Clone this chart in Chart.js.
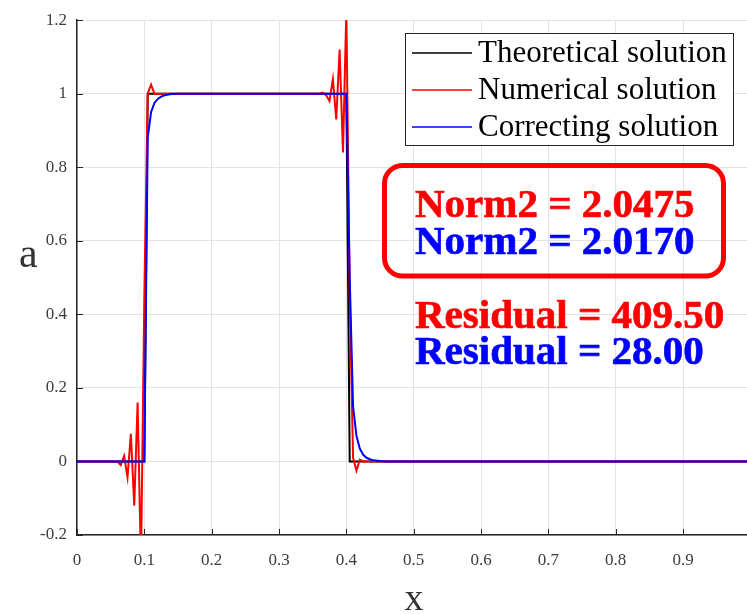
<!DOCTYPE html>
<html>
<head>
<meta charset="utf-8">
<title>Square pulse advection</title>
<script src="https://cdn.jsdelivr.net/npm/chart.js@4.4.1/dist/chart.umd.min.js"></script>
<style>
    html, body { margin: 0; padding: 0; background: #ffffff; }
    #wrap { width: 747px; height: 614px; }
</style>
</head>
<body>
<div id="wrap"><canvas id="solutionChart" width="747" height="614"></canvas></div>
<script>
// exact square pulse
const theoryX = [0, 0.1, 0.105, 0.4, 0.405, 0.995];
const theoryY = [0, 0, 1, 1, 0, 0];

// scheme output, wiggles just ahead of both jumps
const numericalX = [0, 0.06, 0.065, 0.07, 0.075, 0.08, 0.085, 0.09, 0.095, 0.1, 0.105, 0.11, 0.115,
    0.36, 0.365, 0.37, 0.375, 0.38, 0.385, 0.39, 0.395, 0.4, 0.405, 0.41, 0.415, 0.42, 0.425, 0.995];
const numericalY = [0, 0, -0.01, 0.015, -0.043, 0.075, -0.12, 0.16, -0.28, 0.45, 1.0, 1.025, 1.0,
    1.0, 1.003, 0.996, 0.98, 1.04, 0.93, 1.12, 0.84, 1.23, 0.45, 0.01, -0.025, 0.005, 0, 0];

// corrected result, smooth edges
const correctingX = [0, 0.1, 0.105, 0.11, 0.115, 0.12, 0.125, 0.13, 0.14, 0.15,
    0.4, 0.405, 0.41, 0.415, 0.42, 0.425, 0.43, 0.435, 0.44, 0.45, 0.46, 0.995];
const correctingY = [0, 0, 0.88, 0.95, 0.975, 0.986, 0.992, 0.996, 0.999, 1,
    1, 0.5, 0.15, 0.07, 0.035, 0.018, 0.01, 0.006, 0.003, 0.001, 0, 0];

const xTickValues = [0, 0.1, 0.2, 0.3, 0.4, 0.5, 0.6, 0.7, 0.8, 0.9];
const xTickLabels = ['0', '0.1', '0.2', '0.3', '0.4', '0.5', '0.6', '0.7', '0.8', '0.9'];
const yTickValues = [-0.2, 0, 0.2, 0.4, 0.6, 0.8, 1, 1.2];
const yTickLabels = ['-0.2', '0', '0.2', '0.4', '0.6', '0.8', '1', '1.2'];

const normLabels = ['Norm2 = 2.0475', 'Norm2 = 2.0170'];
const residualLabels = ['Residual = 409.50', 'Residual = 28.00'];
const noteColors = ['#ff0000', '#0000ff'];

const serif = '"Liberation Serif", "Times New Roman", serif';
const axisColor = '#262626';

function toPoints(xs, ys) {
    return xs.map((x, i) => ({ x: x, y: ys[i] }));
}

// bold text with a hairline stroke to thicken it a little
function boldText(c, text, x, y, color) {
    c.fillStyle = color;
    c.strokeStyle = color;
    c.lineWidth = 0.7;
    c.lineJoin = 'round';
    c.strokeText(text, x, y);
    c.fillText(text, x, y);
}

// ticks point into the plot, matlab style
const innerTicks = {
    id: 'innerTicks',
    beforeDatasetsDraw(chart) {
        const c = chart.ctx;
        const area = chart.chartArea;
        const xs = chart.scales.x;
        const ys = chart.scales.y;
        c.save();
        c.strokeStyle = axisColor;
        c.lineWidth = 1;
        c.beginPath();
        xTickValues.forEach(v => {
            const px = Math.round(xs.getPixelForValue(v)) + 0.5;
            c.moveTo(px, area.bottom);
            c.lineTo(px, area.bottom - 6);
        });
        yTickValues.forEach(v => {
            const py = Math.round(ys.getPixelForValue(v)) + 0.5;
            c.moveTo(area.left, py);
            c.lineTo(area.left + 6, py);
        });
        c.stroke();
        c.restore();
    }
};

// legend box, error notes and the unrotated axis names
const overlay = {
    id: 'overlay',
    afterDraw(chart) {
        const c = chart.ctx;
        c.save();

        // legend
        c.fillStyle = '#ffffff';
        c.fillRect(405.5, 33.5, 328, 112);
        c.strokeStyle = axisColor;
        c.lineWidth = 1;
        c.strokeRect(405.5, 33.5, 328, 112);
        c.font = '31px ' + serif;
        c.textBaseline = 'middle';
        c.textAlign = 'left';
        chart.data.datasets.forEach((ds, i) => {
            const y = 53 + i * 37;
            c.strokeStyle = ds.borderColor;
            c.lineWidth = 1.5;
            c.beginPath();
            c.moveTo(412, y);
            c.lineTo(472, y);
            c.stroke();
            c.fillStyle = '#000000';
            c.fillText(ds.label, 478, y + 1);
        });

        // rounded frame round the norms
        c.strokeStyle = '#ff0000';
        c.lineWidth = 5;
        c.beginPath();
        c.roundRect(384.5, 165.5, 339, 110.5, 18);
        c.stroke();

        c.font = 'bold 41px ' + serif;
        c.textBaseline = 'alphabetic';
        normLabels.forEach((t, i) => boldText(c, t, 415, 217 + i * 36.5, noteColors[i]));
        residualLabels.forEach((t, i) => boldText(c, t, 415, 328 + i * 35.5, noteColors[i]));

        // axis names
        c.fillStyle = '#333333';
        c.font = '42px ' + serif;
        c.textAlign = 'left';
        c.fillText('a', 19, 267);
        c.font = '38px ' + serif;
        c.textAlign = 'center';
        c.fillText('x', 414, 610);

        c.restore();
    }
};

document.addEventListener('DOMContentLoaded', function () {
    const ctx = document.getElementById('solutionChart').getContext('2d');
    const solutionChart = new Chart(ctx, {
        type: 'line',
        data: {
            datasets: [{
                label: 'Theoretical solution',
                data: toPoints(theoryX, theoryY),
                borderColor: '#000000',
                order: 3
            }, {
                label: 'Numerical solution',
                data: toPoints(numericalX, numericalY),
                borderColor: '#ff0000',
                order: 2
            }, {
                label: 'Correcting solution',
                data: toPoints(correctingX, correctingY),
                borderColor: '#0000ff',
                order: 1
            }]
        },
        options: {
            responsive: false,
            animation: false,
            devicePixelRatio: 1,
            layout: { padding: { top: 15, right: 0, left: 0, bottom: 0 } },
            elements: {
                point: { radius: 0 },
                line: { borderWidth: 2, tension: 0, fill: false }
            },
            plugins: {
                legend: { display: false },
                tooltip: { enabled: false }
            },
            scales: {
                x: {
                    type: 'linear',
                    min: 0,
                    max: 0.995,
                    afterBuildTicks: scale => { scale.ticks = xTickValues.map(v => ({ value: v })); },
                    afterFit: scale => { scale.height = 79; },
                    ticks: {
                        autoSkip: false,
                        maxRotation: 0,
                        padding: 15,
                        color: '#3c3c3c',
                        font: { family: serif, size: 17 },
                        callback: (v, i) => xTickLabels[i]
                    },
                    grid: { color: '#e3e3e3', drawTicks: false },
                    border: { color: axisColor, width: 1.5 }
                },
                y: {
                    min: -0.2,
                    max: 1.2,
                    afterBuildTicks: scale => { scale.ticks = yTickValues.map(v => ({ value: v })); },
                    afterFit: scale => { scale.width = 77; },
                    ticks: {
                        autoSkip: false,
                        padding: 10,
                        color: '#3c3c3c',
                        font: { family: serif, size: 17 },
                        callback: (v, i) => yTickLabels[i]
                    },
                    grid: { color: '#e3e3e3', drawTicks: false },
                    border: { color: axisColor, width: 1.5 }
                }
            }
        },
        plugins: [innerTicks, overlay]
    });
});
</script>
</body>
</html>
